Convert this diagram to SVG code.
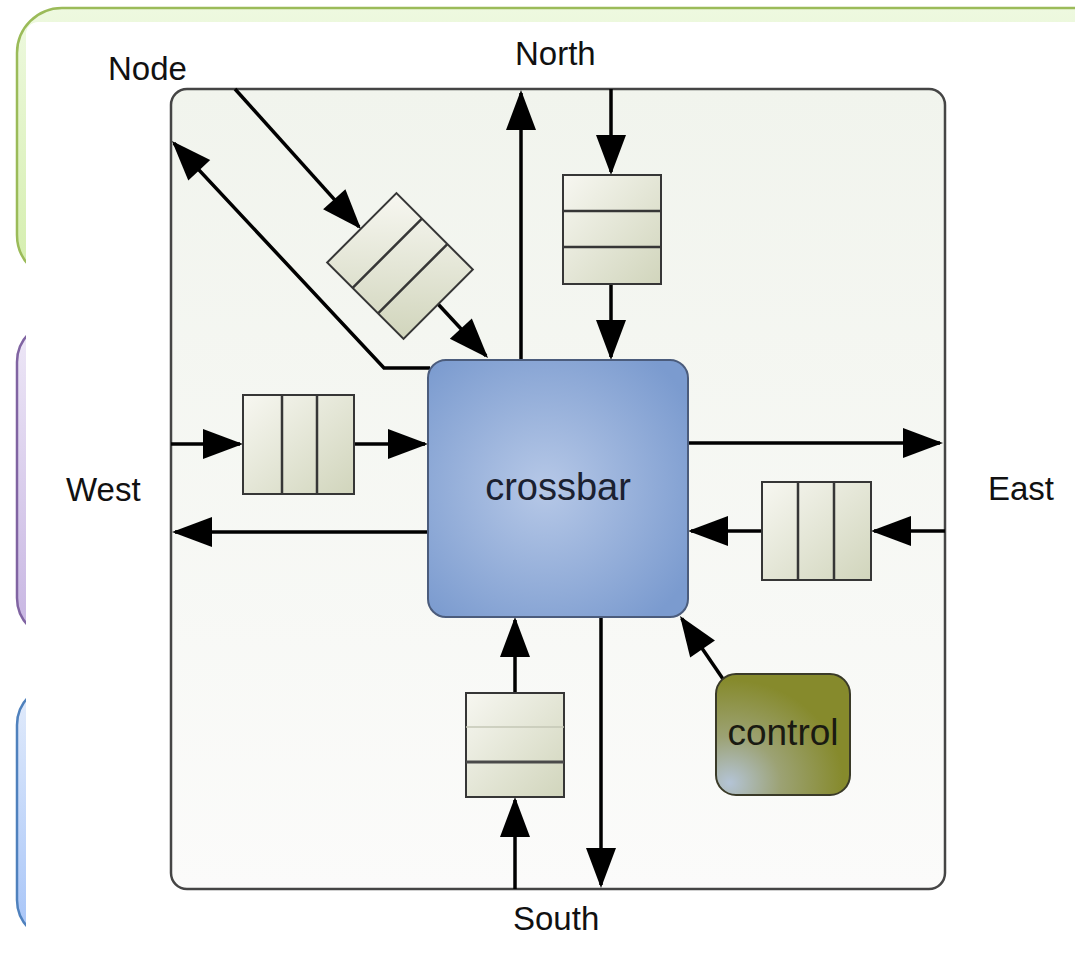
<svg xmlns="http://www.w3.org/2000/svg" width="1075" height="954" viewBox="0 0 1075 954">
  <defs>
    <style>
      .lbl { font-family: "Liberation Sans", Arial, sans-serif; font-size: 33px; fill: #111; }
      .node-text { font-family: "Liberation Sans", Arial, sans-serif; text-anchor: middle; }
      .wire { fill: none; stroke: #000; stroke-width: 3.5; }
      .arrow { marker-end: url(#head); }
      .buf { fill: url(#bufFill); stroke: #363636; stroke-width: 2; }
      .cell { stroke: #363636; stroke-width: 2.5; }
    </style>
    <linearGradient id="greenFill" x1="0" y1="0" x2="0" y2="1">
      <stop offset="0" stop-color="#eef9e0"/>
      <stop offset="1" stop-color="#d4eeac"/>
    </linearGradient>
    <linearGradient id="purpleFill" x1="0" y1="0" x2="0" y2="1">
      <stop offset="0" stop-color="#eee8f7"/>
      <stop offset="1" stop-color="#c7b5e2"/>
    </linearGradient>
    <linearGradient id="blueFill" x1="0" y1="0" x2="0" y2="1">
      <stop offset="0" stop-color="#e3ecfb"/>
      <stop offset="1" stop-color="#a6c4f8"/>
    </linearGradient>
    <linearGradient id="panelFill" x1="0" y1="0" x2="0" y2="1">
      <stop offset="0" stop-color="#f1f4ed"/>
      <stop offset="1" stop-color="#fbfbfa"/>
    </linearGradient>
    <linearGradient id="bufFill" x1="0" y1="0" x2="1" y2="1">
      <stop offset="0" stop-color="#f7f7f1"/>
      <stop offset="1" stop-color="#d1d5bc"/>
    </linearGradient>
    <radialGradient id="xbarFill" cx="0.45" cy="0.5" r="0.65">
      <stop offset="0" stop-color="#b6c8e7"/>
      <stop offset="1" stop-color="#7b9bcf"/>
    </radialGradient>
    <radialGradient id="ctrlFill" cx="0.1" cy="0.9" r="0.85">
      <stop offset="0" stop-color="#b4c4d6"/>
      <stop offset="0.45" stop-color="#9ca274"/>
      <stop offset="1" stop-color="#868a2c"/>
    </radialGradient>
    <marker id="head" markerUnits="userSpaceOnUse" markerWidth="40" markerHeight="30" refX="37" refY="15" orient="auto" overflow="visible">
      <path d="M0,0 L40,15 L0,30 Z" fill="#000"/>
    </marker>
  </defs>

  <!-- background section frames -->
  <g id="frames">
    <rect x="17" y="8" width="1100" height="272" rx="45" fill="url(#greenFill)" stroke="#9bbb59" stroke-width="2.5"/>
    <rect x="17" y="322" width="1100" height="316" rx="40" fill="url(#purpleFill)" stroke="#8064a2" stroke-width="2.5"/>
    <rect x="17" y="685" width="1100" height="255" rx="40" fill="url(#blueFill)" stroke="#4f81bd" stroke-width="2.5"/>
    <rect x="26" y="22" width="1100" height="960" rx="12" fill="#ffffff"/>
  </g>

  <!-- router outline -->
  <g id="router">
    <rect x="171" y="89" width="774" height="800" rx="16" fill="url(#panelFill)" stroke="#454545" stroke-width="2.5"/>
  </g>

  <!-- port labels -->
  <g id="labels">
    <text class="lbl" x="108" y="80">Node</text>
    <text class="lbl" x="515" y="65">North</text>
    <text class="lbl" x="66" y="501">West</text>
    <text class="lbl" x="988" y="500">East</text>
    <text class="lbl" x="513" y="930">South</text>
  </g>

  <!-- links -->
  <g id="connectors">
    <line class="wire arrow" x1="521" y1="360" x2="521" y2="93"/>
    <line class="wire arrow" x1="611" y1="89" x2="611" y2="172"/>
    <line class="wire arrow" x1="611" y1="284" x2="611" y2="357"/>
    <line class="wire arrow" x1="235" y1="89" x2="359" y2="226.8"/>
    <line class="wire arrow" x1="438" y1="304" x2="486" y2="355.8"/>
    <polyline class="wire arrow" points="430,368 384,368 174,143.2"/>
    <line class="wire arrow" x1="171" y1="444" x2="240" y2="444"/>
    <line class="wire arrow" x1="354" y1="444" x2="425" y2="444"/>
    <line class="wire arrow" x1="428" y1="532" x2="175" y2="532"/>
    <line class="wire arrow" x1="688" y1="443" x2="940" y2="443"/>
    <line class="wire arrow" x1="945" y1="531" x2="874" y2="531"/>
    <line class="wire arrow" x1="762" y1="531" x2="691" y2="531"/>
    <line class="wire arrow" x1="515" y1="889" x2="515" y2="800"/>
    <line class="wire arrow" x1="515" y1="693" x2="515" y2="620"/>
    <line class="wire arrow" x1="601" y1="617" x2="601" y2="885"/>
    <line class="wire arrow" x1="723" y1="679" x2="681.7" y2="618.5"/>
  </g>

  <!-- input buffers -->
  <g id="buf-node" transform="translate(400,266) rotate(45)">
    <rect class="buf" x="-54" y="-49" width="108" height="98"/>
    <line class="cell" x1="-18" y1="-49" x2="-18" y2="49"/>
    <line class="cell" x1="18" y1="-49" x2="18" y2="49"/>
  </g>
  <g id="buf-north">
    <rect class="buf" x="563" y="175" width="98" height="109"/>
    <line class="cell" x1="563" y1="211" x2="661" y2="211"/>
    <line class="cell" x1="563" y1="247" x2="661" y2="247"/>
  </g>
  <g id="buf-west">
    <rect class="buf" x="243" y="395" width="111" height="99"/>
    <line class="cell" x1="282" y1="395" x2="282" y2="494"/>
    <line class="cell" x1="317" y1="395" x2="317" y2="494"/>
  </g>
  <g id="buf-east">
    <rect class="buf" x="762" y="482" width="109" height="98"/>
    <line class="cell" x1="798" y1="482" x2="798" y2="580"/>
    <line class="cell" x1="834" y1="482" x2="834" y2="580"/>
  </g>
  <g id="buf-south">
    <rect class="buf" x="466" y="693" width="98" height="104"/>
    <line x1="466" y1="727" x2="564" y2="727" stroke="#c4c7b6" stroke-width="1.5"/>
    <line x1="466" y1="762" x2="564" y2="762" stroke="#4a4a4a" stroke-width="3"/>
  </g>

  <!-- switch core -->
  <g id="crossbar">
    <rect x="428" y="360" width="260" height="257" rx="18" fill="url(#xbarFill)" stroke="#4b5c7c" stroke-width="2"/>
    <text class="node-text" x="558" y="500" font-size="38" fill="#1b2130">crossbar</text>
  </g>

  <g id="control">
    <rect x="716" y="674" width="134" height="121" rx="20" fill="url(#ctrlFill)" stroke="#3a3a28" stroke-width="2"/>
    <text class="node-text" x="783" y="745" font-size="37" fill="#1a1a12">control</text>
  </g>
</svg>
